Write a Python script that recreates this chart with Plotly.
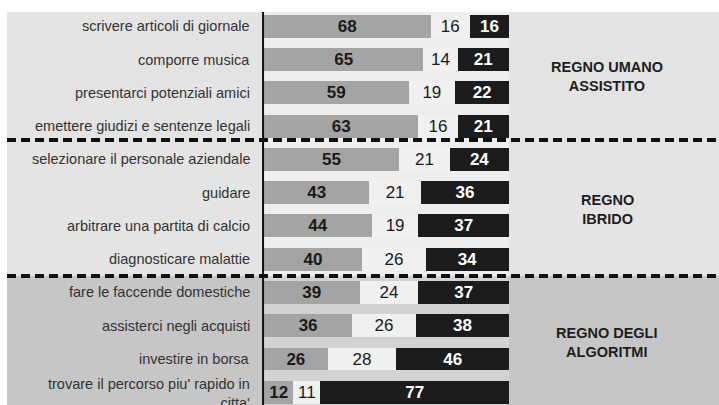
import plotly.graph_objects as go

# Survey items, top to bottom
items = [
    "scrivere articoli di giornale",
    "comporre musica",
    "presentarci potenziali amici",
    "emettere giudizi e sentenze legali",
    "selezionare il personale aziendale",
    "guidare",
    "arbitrare una partita di calcio",
    "diagnosticare malattie",
    "fare le faccende domestiche",
    "assisterci negli acquisti",
    "investire in borsa",
    "trovare il percorso piu' rapido in<br>citta'",
]

# Shares (%) for the three answer groups
human = [68, 65, 59, 63, 55, 43, 44, 40, 39, 36, 26, 12]
mixed = [16, 14, 19, 16, 21, 21, 19, 26, 24, 26, 28, 11]
machine = [16, 21, 22, 21, 24, 36, 37, 34, 37, 38, 46, 77]

# Group titles and the rows they span
regions = ["REGNO UMANO<br>ASSISTITO", "REGNO<br>IBRIDO", "REGNO DEGLI<br>ALGORITMI"]
region_rows = [(0, 3), (4, 7), (8, 11)]

rows = list(range(len(items)))
FONT = "Liberation Sans, Arial, sans-serif"


def stack(values, color, template, text_color):
    return go.Bar(
        y=rows, x=values, orientation="h", width=0.69,
        marker=dict(color=color, line=dict(width=0)),
        texttemplate=template, textposition="inside", insidetextanchor="middle",
        textangle=0, constraintext="none",
        textfont=dict(family=FONT, size=17, color=text_color),
        hoverinfo="skip",
    )


fig = go.Figure()
fig.add_trace(stack(human, "#a4a4a4", "<b>%{x}</b>", "#1a1a1a"))
fig.add_trace(stack(mixed, "#f0f0f0", "%{x}", "#1a1a1a"))
fig.add_trace(stack(machine, "#1c1c1c", "<b>%{x}</b>", "#ffffff"))

# Band boundaries (in row units)
top_edge = -0.433
cut1 = 3.415
cut2 = 7.504
bottom_edge = 11.6
bands = [(top_edge, cut1, "#e3e3e3", "#ededed"),
         (cut1, cut2, "#e4e4e4", "#eeeeee"),
         (cut2, bottom_edge, "#c6c6c6", "#d2d2d2")]

shapes = []
for y0, y1, bg, track in bands:
    shapes.append(dict(type="rect", xref="paper", yref="y", x0=7 / 719, x1=1,
                       y0=y0, y1=y1, fillcolor=bg, line=dict(width=0), layer="below"))
    shapes.append(dict(type="rect", xref="x", yref="y", x0=0, x1=100,
                       y0=y0, y1=y1, fillcolor=track, line=dict(width=0), layer="below"))

# Vertical baseline
shapes.append(dict(type="line", xref="x", yref="y", x0=-0.4, x1=-0.4,
                   y0=top_edge, y1=bottom_edge, line=dict(color="#111111", width=2),
                   layer="above"))
# Dashed separators between groups
for yc in (cut1, cut2):
    shapes.append(dict(type="line", xref="paper", yref="y", x0=7 / 719, x1=1,
                       y0=yc, y1=yc, line=dict(color="#111111", width=4, dash="9px,5px"),
                       layer="above"))

annotations = []
for r, name in zip(rows, items):
    annotations.append(dict(x=-5.0, y=r, xref="x", yref="y", text=name,
                            xanchor="right", yanchor="middle", showarrow=False,
                            align="right", yshift=-1 if "<br>" in name else 0,
                            font=dict(family=FONT, size=14.5, color="#333333")))
for (a, b), name in zip(region_rows, regions):
    annotations.append(dict(x=140, y=(a + b) / 2, xref="x", yref="y", text=f"<b>{name}</b>",
                            xanchor="center", yanchor="middle", showarrow=False,
                            align="center",
                            font=dict(family=FONT, size=14.5, color="#1e1e1e")))

fig.update_layout(
    width=719, height=405,
    margin=dict(l=0, r=0, t=0, b=0),
    barmode="stack",
    showlegend=False,
    paper_bgcolor="#ffffff",
    plot_bgcolor="rgba(0,0,0,0)",
    xaxis=dict(range=[-107.76, 185.7], visible=False, fixedrange=True),
    yaxis=dict(range=[11.383, -0.794], visible=False, fixedrange=True),
    shapes=shapes,
    annotations=annotations,
)

fig.write_html("out.html")
